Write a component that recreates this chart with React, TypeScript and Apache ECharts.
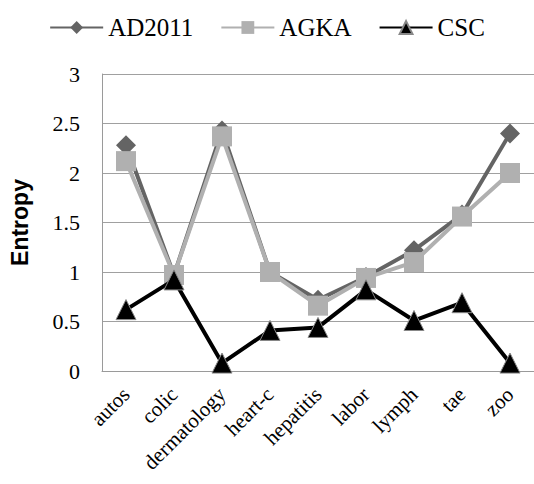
import React, { useEffect, useRef } from "react";
import * as echarts from "echarts";

const categories = ["autos", "colic", "dermatology", "heart-c", "hepatitis", "labor", "lymph", "tae", "zoo"];
const ad2011 = [2.28, 0.97, 2.43, 1.0, 0.72, 0.95, 1.22, 1.58, 2.4];
const agka = [2.12, 0.97, 2.37, 1.0, 0.66, 0.94, 1.1, 1.56, 2.0];
const csc = [0.62, 0.92, 0.08, 0.41, 0.44, 0.82, 0.51, 0.69, 0.08];
const yTicks = [0, 0.5, 1, 1.5, 2, 2.5, 3];

export default function App() {
  const ref = useRef<HTMLDivElement>(null);
  useEffect(() => {
    const chart = echarts.init(ref.current!, null, { renderer: "svg" });
    const serif = "'Liberation Serif', 'Times New Roman', serif";
    chart.setOption({
      animation: false,
      backgroundColor: "#fff",
      legend: {
        top: 10,
        left: "center",
        itemWidth: 53,
        itemHeight: 16,
        itemGap: 27,
        textStyle: { fontFamily: serif, fontSize: 25, color: "#000" },
        data: ["AD2011", "AGKA", "CSC"],
      },
      grid: { left: 93, top: 74, width: 443, height: 297, containLabel: false },
      xAxis: {
        type: "category",
        data: categories,
        boundaryGap: true,
        axisLine: { lineStyle: { color: "#9a9a9a", width: 1 } },
        axisTick: { show: false },
        axisLabel: {
          rotate: 45,
          fontFamily: serif,
          fontSize: 21,
          color: "#000",
          margin: 20,
          interval: 0,
        },
      },
      yAxis: {
        type: "value",
        min: 0,
        max: 3,
        interval: 0.5,
        name: "Entropy",
        nameLocation: "middle",
        nameGap: 71,
        nameTextStyle: { fontFamily: "'Liberation Sans', Arial, sans-serif", fontWeight: "bold", fontSize: 23, color: "#000" },
        axisLine: { show: true, lineStyle: { color: "#9a9a9a", width: 1 } },
        axisTick: { show: false },
        axisLabel: {
          fontFamily: serif,
          fontSize: 22,
          color: "#000",
          margin: 22,
          formatter: (v: number) => (yTicks.includes(v) ? String(v) : ""),
        },
        splitLine: { lineStyle: { color: "#a0a0a0", width: 1 } },
      },
      series: [
        {
          name: "AD2011",
          type: "line",
          data: ad2011,
          symbol: "diamond",
          symbolSize: 20,
          lineStyle: { color: "#646464", width: 4 },
          itemStyle: { color: "#646464" },
          z: 2,
        },
        {
          name: "AGKA",
          type: "line",
          data: agka,
          symbol: "rect",
          symbolSize: 20,
          lineStyle: { color: "#b0b0b0", width: 4 },
          itemStyle: { color: "#b0b0b0" },
          z: 3,
        },
        {
          name: "CSC",
          type: "line",
          data: csc,
          symbol: "triangle",
          symbolSize: 20,
          lineStyle: { color: "#000", width: 4 },
          itemStyle: { color: "#000", borderColor: "#888", borderWidth: 1 },
          z: 4,
        },
      ],
    });
    return () => chart.dispose();
  }, []);
  return <div ref={ref} style={{ width: 534, height: 484, position: "absolute", left: 0, top: 0 }} />;
}
